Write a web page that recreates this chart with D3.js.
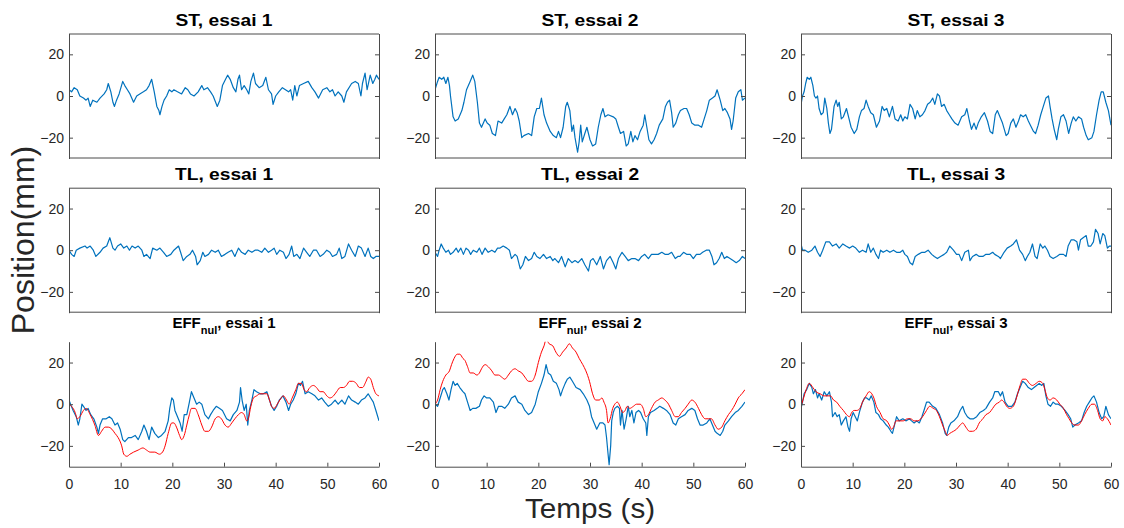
<!DOCTYPE html>
<html><head><meta charset="utf-8">
<script src="https://cdn.jsdelivr.net/npm/d3@7"></script>
<style>
body{margin:0;background:#fff;}
svg{display:block;}
text{font-family:"Liberation Sans",Arial,Helvetica,sans-serif;}
</style>
</head><body>
<svg id="c" width="1124" height="528"></svg>
<script>
// ---- Data (time in s, position in mm) ----
const rowNames = ["ST", "TL", "EFF"];
const trialLabels = ["essai 1", "essai 2", "essai 3"];
const yTicks = [-20, 0, 20];
const xTicks = [0, 10, 20, 30, 40, 50, 60];

const st1 = [[0,3],[0.5,2],[1,4],[1.6,3],[2.1,0],[2.8,-1],[3.3,-2],[3.7,-1],[4.1,-5],[4.6,-2],[5.4,-3],[6,-1],[6.8,1],[7.3,3],[7.6,6],[8.1,2],[8.5,-3],[8.8,-5],[9.2,-2],[9.7,1],[10.4,7],[10.8,5],[11.3,3],[11.8,1],[12.5,-3],[13.1,0],[13.7,1],[14.4,2],[15,3],[15.5,5],[16,8],[16.5,2],[17,-5],[17.4,-7],[17.6,-9],[18,-5],[18.4,-2],[18.9,0],[19.4,3],[19.9,2],[20.3,3],[21,2],[21.8,1],[22.5,4],[23,3],[23.5,1],[24.2,0],[25,2],[25.7,5],[26.1,3],[26.8,4],[27.4,2],[27.9,0],[28.7,-5],[29.2,-2],[29.7,5],[30.3,8],[30.7,10],[31.2,8],[31.8,4],[32.3,2],[32.7,8],[33,10],[33.4,3],[33.9,5],[34.4,3],[34.8,1],[35.2,7],[35.7,11],[36.1,6],[36.8,4],[37.5,5],[38.1,9],[38.6,3],[39.2,1],[39.5,-4],[40,0],[40.6,2],[41.3,4],[41.9,3],[42.5,2],[42.9,3],[43.3,-2],[43.7,5],[44.1,0],[44.6,5],[45.4,6],[46.3,7],[47,4],[47.6,2],[48.3,-1],[49.1,3],[49.9,4],[50.5,2],[51,3],[51.5,0],[52.1,2],[52.8,0],[53.2,-3],[53.7,2],[54.7,6],[55.4,7],[56,6],[56.5,0],[56.8,6],[57.3,11],[57.7,3],[58.3,10],[58.8,6],[59.2,8],[59.5,10],[60,8]];

const st2 = [[0,3],[0.5,7],[0.8,9],[1.3,8],[1.7,9],[2.1,6],[2.5,9],[2.8,5],[3,0],[3.5,-10],[3.9,-12],[4.5,-11],[5.2,-7],[5.6,-3],[6.1,3],[6.8,7],[7.3,10],[7.7,7],[8.2,-3],[8.6,-13],[9,-15],[9.7,-11],[10.1,-13],[10.6,-14],[11.1,-18],[11.7,-19],[12.2,-12],[12.9,-13],[13.4,-11],[13.9,-9],[14.5,-5],[15,-9],[15.5,-6],[15.9,-8],[16.3,-12],[16.8,-20],[17.2,-19],[18.1,-18],[18.7,-19],[19.2,-10],[19.7,-6],[20.2,-6],[20.6,-1],[21.1,-9],[21.6,-13],[22.3,-17],[22.9,-19],[23.5,-20],[23.9,-17],[24.3,-20],[24.8,-15],[25.3,-5],[25.6,-3],[26.1,-7],[26.5,-17],[26.8,-14],[27.1,-20],[27.6,-27],[27.9,-22],[28.2,-14],[28.5,-22],[29,-18],[29.4,-15],[30,-21],[30.5,-24],[31.1,-23],[31.6,-15],[32.1,-9],[32.5,-6],[32.9,-10],[33.5,-9],[34.5,-10],[35,-11],[35.5,-15],[35.9,-18],[36.5,-17],[37,-24],[37.4,-23],[37.9,-17],[38.3,-22],[38.7,-19],[39.2,-21],[39.7,-17],[40.3,-14],[40.6,-9],[41,-15],[41.4,-21],[41.9,-23],[42.4,-21],[42.9,-18],[43.4,-14],[44.1,-11],[44.6,-5],[45,-3],[45.4,-2],[45.8,-8],[46.1,-15],[46.6,-13],[47.1,-9],[47.5,-7],[48.2,-6],[48.7,-6],[49.2,-9],[49.7,-13],[50.3,-14],[51,-14],[51.6,-15],[52.1,-11],[52.6,-7],[53.1,-2],[53.7,-1],[54.2,0],[54.6,3],[55.2,-2],[55.7,-7],[56.1,-6],[56.6,-8],[57.1,-11],[57.4,-16],[57.7,-12],[58.2,-1],[58.7,2],[59.2,3],[59.5,-2],[60,-1]];

const st3 = [[0,-4],[0.3,0],[0.6,2],[0.9,6],[1.2,9],[1.6,8],[1.9,9],[2.3,5],[2.6,0],[2.9,-1],[3.2,0],[3.5,-6],[3.9,-9],[4.3,-8],[4.6,-1],[5,-6],[5.3,-13],[5.6,-18],[5.9,-16],[6.4,-5],[6.8,-2],[7.1,-5],[7.4,-3],[7.8,-11],[8.2,-10],[8.8,-6],[9.3,-11],[9.7,-15],[10.3,-18],[10.8,-16],[11.3,-10],[11.7,-7],[12.2,-6],[12.6,-2],[13,-5],[13.5,-8],[14,-9],[14.6,-15],[15.2,-12],[15.7,-5],[16.1,-7],[16.6,-6],[17.1,-10],[17.7,-5],[18.2,-11],[18.8,-12],[19.3,-9],[19.7,-12],[20.1,-10],[20.6,-11],[21.1,-4],[21.6,-6],[22.1,-11],[22.5,-7],[23,-10],[23.5,-9],[24,-7],[24.5,-4],[25,-3],[25.5,-1],[25.9,-4],[26.4,1],[26.8,0],[27.2,-5],[27.7,-4],[28.2,-7],[28.7,-9],[29.2,-11],[29.8,-13],[30.4,-14],[31.1,-10],[31.7,-9],[32.1,-6],[32.6,-12],[33,-16],[33.5,-13],[33.9,-16],[34.3,-13],[34.9,-10],[35.5,-8],[36.1,-12],[36.6,-17],[37.1,-18],[37.6,-9],[38,-7],[38.5,-10],[39,-13],[39.7,-19],[40.1,-18],[40.6,-13],[41.1,-11],[41.6,-15],[42.1,-12],[42.5,-9],[43,-10],[43.5,-9],[44,-12],[44.4,-14],[45,-17],[45.4,-18],[45.9,-14],[46.4,-9],[46.9,-5],[47.4,-1],[47.9,0],[48.2,-5],[48.6,-11],[49,-16],[49.5,-21],[49.8,-16],[50.3,-10],[50.8,-9],[51.3,-12],[51.8,-18],[52.3,-13],[52.7,-10],[53.2,-12],[53.7,-10],[54.3,-11],[54.7,-15],[55.2,-19],[55.6,-21],[56.3,-20],[56.7,-17],[57.2,-9],[57.7,-2],[58.1,2],[58.5,2],[59,-3],[59.5,-7],[60,-14]];

const tl1 = [[0,0],[0.5,-2],[1,-3],[1.4,0],[2.1,1],[3.1,2],[3.5,1],[4.1,2],[4.7,0],[5.2,-3],[6,-1],[6.6,1],[7.3,2],[7.9,6],[8.5,1],[8.9,0],[9.4,2],[10,3],[10.6,1],[11.2,2],[11.7,0],[12.2,2],[12.8,1],[13.4,2],[14.1,0],[14.5,-3],[15,-2],[15.7,-4],[16.2,1],[17,0],[17.6,1],[18.3,-1],[18.9,-3],[19.7,-2],[20.3,0],[21.2,2],[21.6,-1],[22.1,-5],[22.8,-3],[23.4,-2],[23.9,0],[24.5,-3],[24.8,-7],[25.4,-5],[25.9,-1],[26.3,-3],[27,-2],[27.6,0],[28.3,-1],[28.9,0],[29.5,-3],[30.2,-2],[30.8,-1],[31.5,0],[32.1,-3],[32.8,1],[33.4,-1],[34.1,-2],[34.7,0],[35.4,-1],[36,0],[36.6,0],[37.3,-1],[37.9,1],[38.6,-1],[39.2,0],[39.7,1],[40.2,-2],[40.8,0],[41.5,-1],[42,-4],[42.6,-2],[43.1,2],[43.5,-3],[44.1,-2],[44.7,-4],[45.4,1],[46,-1],[46.6,-3],[47.3,0],[47.9,0],[48.6,-3],[49.2,-2],[49.9,0],[50.5,-1],[51,-3],[51.8,-2],[52.3,1],[52.8,-4],[53.4,-3],[54.1,3],[54.7,0],[55.4,-3],[56,2],[56.6,1],[57.3,-3],[57.9,1],[58.4,-3],[58.9,-4],[59.4,-3],[60,-3]];

const tl2 = [[0,-1],[0.5,-3],[0.8,0],[1.2,3],[1.6,1],[2.1,-1],[2.6,0],[3,-2],[3.5,-1],[4.1,1],[4.5,-1],[5,1],[5.5,-2],[6,1],[6.5,0],[6.9,-2],[7.4,0],[8.1,-1],[8.6,1],[9.1,-2],[9.7,1],[10.3,-1],[11,0],[11.6,-1],[12.1,1],[12.6,1],[13.2,2],[13.9,1],[14.4,0],[14.8,-4],[15.5,-2],[15.9,-3],[16.5,-9],[17,-7],[17.5,-3],[18.1,-5],[18.7,-4],[19.2,-1],[19.7,-3],[20.3,-4],[21,-2],[21.6,-4],[22.3,-3],[22.8,-5],[23.2,-4],[23.9,-6],[24.5,-3],[25.2,-8],[25.8,-4],[26.5,-6],[27.1,-5],[27.7,-6],[28.4,-4],[29,-7],[29.7,-10],[30.1,-5],[30.6,-4],[31.3,-7],[32,-3],[32.6,-9],[33.2,-5],[33.9,-3],[34.5,-6],[35,-9],[35.5,-4],[36.2,-1],[36.8,-3],[37.4,-5],[38.1,-4],[38.7,-4],[39.4,-5],[40,-3],[40.6,-2],[41.3,-4],[41.9,-2],[42.6,-2],[43.2,-2],[43.9,-1],[44.5,-2],[45.2,-2],[45.8,-1],[46.5,-4],[47,-3],[47.4,-3],[48.1,-1],[48.7,-2],[49.4,-2],[50,-4],[50.6,-2],[51.3,-2],[51.8,-1],[52.5,0],[53.1,0],[53.6,-3],[54,-7],[54.5,-6],[55,-4],[55.5,-1],[56,-4],[56.5,-3],[57.1,-4],[57.7,-5],[58.3,-6],[58.9,-5],[59.5,-3],[60,-4]];

const tl3 = [[0,3],[0.3,0],[0.8,0],[1.4,-1],[2.1,0],[2.7,2],[3.2,-1],[3.7,-3],[4.2,0],[4.8,4],[5.5,4],[6.1,2],[6.8,3],[7.4,1],[8.1,3],[8.7,2],[9.4,1],[10,2],[10.6,1],[11.3,-1],[11.9,0],[12.6,-1],[13,3],[13.5,-1],[14,1],[14.5,-2],[15,-4],[15.4,0],[15.9,-1],[16.6,0],[17.2,-1],[17.9,0],[18.5,-1],[19.2,-1],[19.7,0],[20.1,-2],[20.6,-3],[21.1,-6],[21.6,-7],[22.1,-3],[22.7,-2],[23.4,-1],[24,-1],[24.6,0],[25.3,-2],[25.8,-3],[26.4,-4],[27,-3],[27.7,-2],[28.2,-1],[28.8,2],[29.5,0],[30.1,-2],[30.6,-2],[31.1,-5],[31.7,-1],[32.4,0],[32.7,-5],[33.2,-3],[33.9,-2],[34.5,-3],[35.2,-3],[35.8,-2],[36.5,-2],[37.1,-1],[37.5,-2],[38.2,-3],[38.6,-4],[39.3,-1],[39.9,1],[40.6,2],[41.1,3],[41.7,5],[42.3,0],[42.9,-2],[43.4,-5],[43.8,-3],[44.3,-1],[44.8,3],[45.3,-3],[45.7,-4],[46.3,3],[46.8,1],[47.2,2],[47.7,0],[48.2,-3],[48.8,-4],[49.5,-3],[50.1,-2],[50.8,-2],[51.3,-3],[51.7,2],[52.3,5],[52.8,5],[53.4,4],[53.7,0],[54.1,5],[54.6,6],[55.2,7],[55.6,2],[56.1,2],[56.6,4],[57,10],[57.5,8],[57.9,3],[58.4,8],[58.8,7],[59.3,1],[59.7,2],[60,2]];

const eff1 = [[0,2],[0.3,0],[0.8,-3],[1.4,-6],[1.8,-10],[2.1,-7],[2.5,0],[2.8,-1],[3.3,-3],[3.7,-2],[4.2,-5],[4.8,-7],[5.4,-11],[5.7,-14],[6,-10],[6.5,-7],[7.2,-7],[7.8,-6],[8.3,-7],[8.9,-10],[9.4,-9],[9.9,-12],[10.4,-17],[10.8,-18],[11.5,-16],[12.1,-16],[12.8,-15],[13.4,-17],[14.1,-13],[14.5,-10],[15,-13],[15.5,-17],[16,-11],[16.6,-14],[17.3,-16],[17.9,-15],[18.6,-13],[19.2,-8],[19.5,-2],[19.9,3],[20.2,2],[20.5,-3],[21,-6],[21.5,-9],[21.9,-13],[22.3,-5],[22.8,-5],[23.3,1],[23.7,6],[24.2,3],[24.7,0],[25.2,1],[25.7,0],[26.3,-5],[27,-7],[27.4,-5],[27.9,-3],[28.5,-1],[29.1,-2],[29.7,-3],[30.5,-7],[31.2,-8],[31.8,-5],[32.5,-3],[33,1],[33.2,8],[33.5,2],[33.9,-3],[34.3,0],[34.6,-10],[34.9,-3],[35.4,2],[35.8,7],[36.3,6],[37,5],[37.6,5],[38.3,6],[38.8,2],[39.2,-1],[39.7,-3],[40.2,-1],[40.7,2],[41.4,4],[42,1],[42.5,-3],[42.9,0],[43.4,2],[43.9,5],[44.4,10],[44.8,9],[45.2,11],[45.7,5],[46.3,6],[47,5],[47.6,4],[48.3,2],[48.9,3],[49.5,1],[50.2,-1],[50.8,0],[51.5,2],[52.1,0],[52.8,2],[53.4,0],[54.1,4],[54.7,2],[55.4,1],[56,0],[56.6,2],[57.3,3],[57.9,5],[58.4,3],[58.9,1],[59.4,-3],[60,-8]];

const eff1Ref = [[0,0],[0.5,-1],[1.2,-4],[1.6,-7],[2.1,-6],[2.8,-3],[3.3,-2],[4.1,-5],[5,-10],[5.7,-15],[6.3,-13],[7,-11],[7.6,-11],[8.3,-12],[8.9,-14],[9.5,-16],[10.2,-20],[10.6,-24],[11.2,-25],[11.8,-24],[12.5,-23],[13.4,-22],[14.3,-21],[15,-22],[15.7,-23],[16.6,-23],[17.5,-24],[18.1,-23],[18.6,-20],[19.2,-14],[19.9,-9],[20.3,-9],[20.8,-11],[21.4,-15],[21.8,-17],[22.3,-15],[22.8,-10],[23.3,-5],[23.7,-2],[24.4,-2],[25,-5],[25.7,-10],[26.3,-13],[27,-13],[27.6,-11],[28.3,-7],[28.9,-6],[29.5,-7],[30.2,-10],[30.8,-11],[31.5,-9],[32.1,-7],[32.8,-5],[33.4,-4],[33.9,-5],[34.4,-8],[34.7,-7],[35.2,-1],[35.7,3],[36.3,4],[37,5],[37.6,5],[38.3,5],[38.8,2],[39.2,-1],[39.7,-2],[40.3,0],[40.8,2],[41.5,4],[42.1,2],[42.6,0],[43.2,3],[43.9,7],[44.4,10],[45,10],[45.5,7],[46,6],[46.6,8],[47.3,9],[47.9,8],[48.6,6],[49.2,6],[49.9,4],[50.5,3],[51.2,4],[51.8,6],[52.5,8],[53.1,8],[53.7,9],[54.3,11],[54.9,11],[55.6,10],[56.2,8],[56.8,8],[57.5,11],[57.9,13],[58.4,12],[58.9,8],[59.4,5],[60,4]];

const eff2 = [[0,0],[0.5,-1],[1,3],[1.5,7],[1.8,8],[2.3,5],[2.7,2],[3.1,7],[3.5,11],[3.9,9],[4.3,10],[4.8,8],[5.4,6],[5.8,5],[6.3,1],[6.8,-3],[7.3,-2],[7.9,-2],[8.6,-1],[9,2],[9.5,4],[10,3],[10.6,3],[11.3,1],[11.8,-4],[12.3,-1],[12.9,-1],[13.5,-2],[14.2,0],[14.8,3],[15.5,4],[16.1,1],[16.8,0],[17.4,-3],[18.1,-5],[18.7,-4],[19.4,0],[20,6],[20.6,10],[21.1,14],[21.5,19],[21.9,15],[22.4,14],[22.9,11],[23.5,10],[24,7],[24.3,4],[24.7,7],[25.2,10],[25.6,12],[26.1,13],[26.6,11],[27.3,8],[28.1,7],[28.7,5],[29.4,2],[29.9,-1],[30.3,-6],[30.8,-9],[31.3,-12],[31.9,-9],[32.5,-9],[32.9,-10],[33.2,-16],[33.5,-24],[33.7,-29],[34,-20],[34.2,-8],[34.5,-4],[34.8,-2],[35.3,-1],[35.7,-2],[35.9,-10],[36.2,-3],[36.6,-12],[37,-7],[37.4,-1],[37.7,-6],[38.1,-3],[38.5,-9],[38.9,-4],[39.4,-3],[39.8,-4],[40.3,-7],[40.8,-9],[41,-15],[41.3,-6],[41.7,-4],[42.4,-3],[43,-2],[43.5,-1],[44.2,-2],[44.8,-3],[45.5,-5],[46.1,-9],[46.6,-10],[47.1,-7],[47.7,-6],[48.4,-5],[49,-3],[49.7,-2],[50.3,-3],[50.8,-7],[51.3,-10],[51.9,-10],[52.6,-9],[53.2,-7],[53.7,-10],[54.2,-13],[54.6,-14],[55.2,-15],[55.7,-13],[56.1,-10],[56.8,-8],[57.4,-6],[58.1,-4],[58.7,-3],[59.4,-1],[60,1]];

const eff2Ref = [[0,0],[0.5,2],[1,7],[1.5,11],[2.1,14],[2.8,16],[3.2,19],[3.7,22],[4.3,24],[4.8,24],[5.4,22],[5.8,21],[6.3,18],[6.8,15],[7.4,15],[8.1,14],[8.6,15],[9,17],[9.7,19],[10.3,18],[11,16],[11.6,14],[12.3,14],[12.9,13],[13.5,12],[14.2,14],[14.8,16],[15.5,17],[16.1,16],[16.8,15],[17.4,13],[18.1,11],[18.7,11],[19.4,14],[20,20],[20.6,25],[21.1,28],[21.5,31],[22.1,29],[22.8,28],[23.4,25],[24.1,23],[24.7,25],[25.4,27],[26,29],[26.6,27],[27.3,25],[27.9,22],[28.6,19],[29.2,16],[29.9,11],[30.5,5],[31.1,2],[31.8,2],[32.3,3],[32.7,1],[33.2,-3],[33.5,-9],[33.9,-7],[34.4,-2],[34.8,0],[35.3,1],[35.8,-1],[36.3,-4],[36.8,-3],[37.2,-1],[37.7,-2],[38.4,-1],[39,0],[39.7,0],[40.3,-2],[40.8,-6],[41.3,-5],[41.9,-2],[42.6,1],[43.2,2],[43.9,3],[44.5,2],[45.2,0],[45.8,-3],[46.5,-6],[47.1,-6],[47.7,-4],[48.4,-2],[49,0],[49.7,2],[50.3,1],[51,-2],[51.6,-5],[52.3,-7],[52.9,-7],[53.5,-7],[54.2,-10],[54.8,-12],[55.5,-11],[56.1,-8],[56.8,-5],[57.4,-3],[58.1,0],[58.7,3],[59.4,5],[60,7]];

const eff3 = [[0,-2],[0.3,1],[0.6,5],[1.1,7],[1.6,10],[2.1,8],[2.4,5],[2.8,7],[3.2,3],[3.5,5],[4,2],[4.5,6],[5,4],[5.5,6],[5.9,1],[6.1,-6],[6.6,-4],[7,-6],[7.4,-5],[7.8,-10],[8.2,-8],[8.7,-6],[9.1,-11],[9.4,-13],[9.7,-7],[10.1,-4],[10.5,-6],[10.9,-8],[11.4,-3],[11.9,1],[12.3,3],[12.7,3],[13.2,2],[13.6,4],[14.1,1],[14.5,-4],[15,-5],[15.4,-7],[15.9,-8],[16.5,-10],[16.9,-11],[17.4,-13],[17.7,-14],[18.1,-10],[18.5,-6],[19,-8],[19.7,-7],[20.3,-8],[21,-7],[21.4,-8],[21.9,-9],[22.4,-8],[22.9,-9],[23.4,-6],[23.8,-3],[24.3,1],[24.8,1],[25.5,-1],[26.1,-2],[26.8,-5],[27.4,-9],[27.9,-14],[28.2,-15],[28.6,-11],[29,-9],[29.6,-8],[30.3,-6],[30.8,-3],[31.3,-1],[31.7,-4],[32.2,-6],[32.7,-7],[33.4,-7],[34,-6],[34.6,-4],[35.3,-3],[35.8,-2],[36.5,1],[37.1,3],[37.5,6],[38.2,6],[38.6,4],[39,6],[39.5,1],[40.1,-1],[40.8,-1],[41.4,1],[41.9,5],[42.4,8],[42.9,11],[43.4,10],[44,8],[44.6,7],[45.1,8],[45.6,9],[46.1,10],[46.6,9],[47,10],[47.4,4],[47.8,0],[48.3,-1],[48.8,1],[49.3,0],[49.8,0],[50.4,-1],[51.1,-3],[51.7,-5],[52.2,-7],[52.6,-11],[53,-10],[53.7,-9],[54.3,-8],[54.8,-4],[55.3,-1],[55.8,1],[56.3,3],[56.7,4],[57.2,1],[57.7,-4],[58.2,-7],[58.6,-6],[59,-1],[59.5,-5],[60,-7]];

const eff3Ref = [[0,-1],[0.5,3],[1,7],[1.6,10],[2.3,8],[2.9,6],[3.7,5],[4.5,4],[5.1,4],[5.7,4],[6.3,2],[6.9,1],[7.5,-1],[8.2,-3],[8.8,-5],[9.4,-6],[9.8,-4],[10.3,-3],[10.8,-3],[11.4,-2],[11.9,1],[12.6,4],[13.2,6],[13.7,5],[14.1,3],[14.6,-1],[15.3,-4],[15.9,-7],[16.6,-8],[17.1,-10],[17.5,-12],[17.9,-11],[18.4,-8],[19,-8],[19.8,-8],[20.6,-7],[21.2,-7],[21.9,-8],[22.5,-8],[23.2,-7],[23.8,-5],[24.3,-3],[24.9,-1],[25.6,-2],[26.2,-3],[26.8,-6],[27.4,-10],[27.9,-13],[28.3,-15],[28.8,-14],[29.5,-13],[30.1,-12],[30.8,-10],[31.3,-9],[31.9,-11],[32.6,-13],[33.2,-13],[33.9,-12],[34.5,-9],[35.2,-7],[35.8,-5],[36.5,-4],[37.1,-2],[37.7,0],[38.4,1],[38.8,2],[39.3,1],[39.8,-1],[40.4,-2],[41.1,-1],[41.7,3],[42.4,9],[42.9,12],[43.5,12],[44.2,10],[44.8,9],[45.5,10],[46.1,11],[46.8,10],[47.2,7],[47.7,3],[48.2,2],[48.8,3],[49.5,2],[50.1,0],[50.8,-2],[51.4,-5],[51.9,-7],[52.4,-9],[53,-10],[53.7,-10],[54.3,-8],[54.9,-5],[55.6,-2],[56.3,0],[56.8,0],[57.4,-3],[57.9,-7],[58.4,-8],[58.8,-6],[59.3,-7],[60,-10]];

const blueSeries = [[st1, st2, st3], [tl1, tl2, tl3], [eff1, eff2, eff3]];
const redSeries = [null, null, [eff1Ref, eff2Ref, eff3Ref]];

// ---- Layout ----
const colX = [69, 435, 801];
const rowY = [33.5, 187.7, 341.7];
const W = 310, H = 125;
const AX = "#4a4a4a", TXT = "#262626";

const svg = d3.select("#c");
const defs = svg.append("defs");

for (let r = 0; r < 3; r++) {
  for (let c = 0; c < 3; c++) {
    const x0 = colX[c], y0 = rowY[r];
    const x = d3.scaleLinear().domain([0, 60]).range([x0, x0 + W]);
    const y = d3.scaleLinear().domain([-30, 30]).range([y0 + H, y0]);
    const id = `clip${r}${c}`;
    defs.append("clipPath").attr("id", id).append("rect")
      .attr("x", x0).attr("y", y0).attr("width", W).attr("height", H);

    const g = svg.append("g");
    const line = d3.line().x(d => x(d[0])).y(d => y(d[1]));
    const smooth = d3.line().x(d => x(d[0])).y(d => y(d[1])).curve(d3.curveMonotoneX);

    g.append("path").datum(blueSeries[r][c]).attr("clip-path", `url(#${id})`)
      .attr("fill", "none").attr("stroke", "#0072bd").attr("stroke-width", 1.2)
      .attr("stroke-linejoin", "round").attr("d", line);
    if (redSeries[r]) {
      g.append("path").datum(redSeries[r][c]).attr("clip-path", `url(#${id})`)
        .attr("fill", "none").attr("stroke", "#ff0000").attr("stroke-width", 1).attr("d", smooth);
    }

    // left axis
    const la = g.append("g").attr("transform", `translate(${x0},0)`)
      .call(d3.axisLeft(y).tickValues(yTicks).tickSizeInner(-4).tickSizeOuter(0).tickPadding(5));
    la.selectAll("text").attr("font-size", 14).attr("fill", TXT)
      .attr("font-family", "Liberation Sans, Arial, sans-serif");
    la.selectAll("line").attr("stroke", AX);
    la.select(".domain").attr("stroke", AX);

    if (r < 2) {
      const ra = g.append("g").attr("transform", `translate(${x0 + W},0)`)
        .call(d3.axisRight(y).tickValues(yTicks).tickSizeInner(-4).tickSizeOuter(0).tickFormat(""));
      ra.selectAll("line").attr("stroke", AX);
      ra.select(".domain").attr("stroke", AX);
      g.append("line").attr("x1", x0).attr("x2", x0 + W).attr("y1", y0 + 0.5).attr("y2", y0 + 0.5).attr("stroke", AX);
      g.append("line").attr("x1", x0).attr("x2", x0 + W).attr("y1", y0 + H - 0.5).attr("y2", y0 + H - 0.5).attr("stroke", AX);
    } else {
      const ba = g.append("g").attr("transform", `translate(0,${y0 + H})`)
        .call(d3.axisBottom(x).tickValues(xTicks).tickSizeInner(-4).tickSizeOuter(0).tickPadding(12));
      ba.selectAll("text").attr("font-size", 14).attr("fill", TXT)
        .attr("font-family", "Liberation Sans, Arial, sans-serif");
      ba.selectAll("line").attr("stroke", AX);
      ba.select(".domain").attr("stroke", AX);
    }

    // titles
    const cx = x0 + W / 2;
    if (r < 2) {
      svg.append("text").attr("transform", `translate(${cx},${y0 - 8}) scale(1.2,1)`)
        .attr("text-anchor", "middle")
        .attr("font-size", 16).attr("font-weight", "bold").attr("fill", "#000")
        .text(`${rowNames[r]}, ${trialLabels[c]}`);
    } else {
      const t = svg.append("text").attr("x", cx).attr("y", y0 - 14).attr("text-anchor", "middle")
        .attr("font-size", 15).attr("font-weight", "bold").attr("fill", "#000");
      t.append("tspan").text(rowNames[r]);
      t.append("tspan").attr("font-size", 11).attr("dy", 6).text("nul");
      t.append("tspan").attr("dy", -6).text(`, ${trialLabels[c]}`);
    }
  }
}

svg.append("text").attr("transform", "translate(34,240) rotate(-90)")
  .attr("text-anchor", "middle").attr("font-size", 32).attr("fill", TXT).text("Position(mm)");
svg.append("text").attr("transform", "translate(590,518) scale(1.06,1)")
  .attr("text-anchor", "middle").attr("font-size", 28).attr("fill", TXT).text("Temps (s)");
</script>
</body></html>
